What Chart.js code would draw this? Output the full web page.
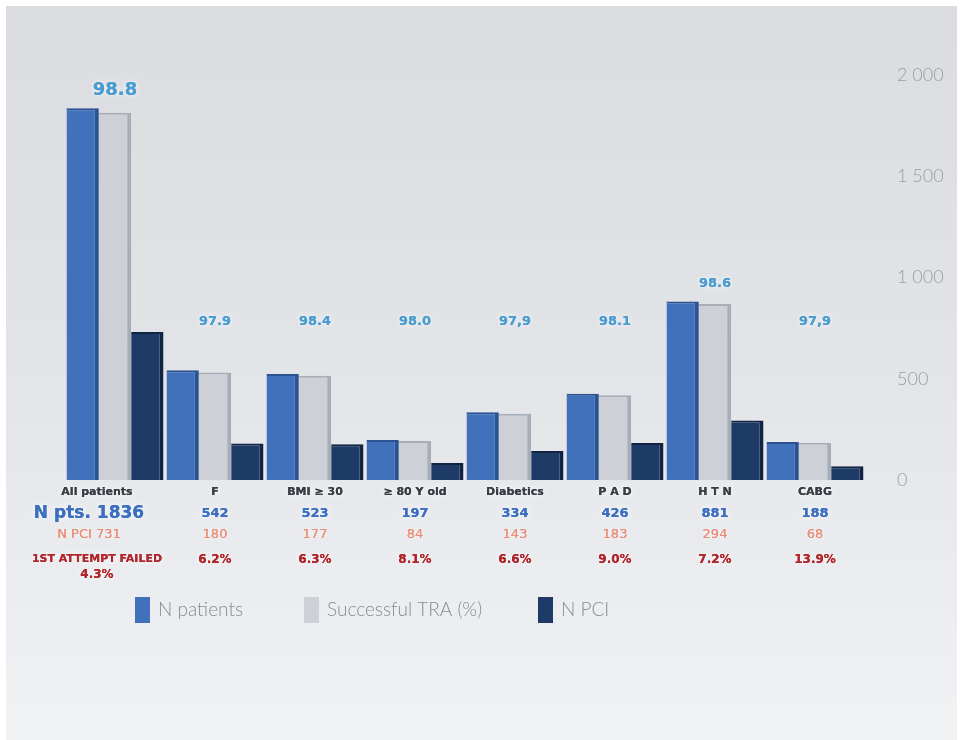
<!DOCTYPE html>
<html>
<head>
<meta charset="utf-8">
<script src="https://cdn.jsdelivr.net/npm/chart.js@4.4.0/dist/chart.umd.min.js"></script>
<style>
    body { margin: 0; background: #ffffff; }
    #wrap { position: relative; width: 963px; height: 740px; background: #ffffff; overflow: hidden; }
    #fundo {
        position: absolute; left: 6px; top: 6px; right: 6px; bottom: 0;
        background: linear-gradient(180deg, #dadce0 0%, #e1e3e7 45%, #eaecef 78%, #f1f2f4 100%);
    }
    #grafico { position: absolute; left: 0; top: 0; }
</style>
</head>
<body>
<div id="wrap">
    <div id="fundo"></div>
    <canvas id="grafico" width="963" height="740"></canvas>
</div>
<script>
// dados
const categories = ['All patients', 'F', 'BMI \u2265 30', '\u2265 80 Y old', 'Diabetics', 'P A D', 'H T N', 'CABG'];
const nPatients = [1836, 542, 523, 197, 334, 426, 881, 188];
const nSuccess = [1814, 531, 515, 193, 327, 418, 869, 184];
const nPci = [731, 180, 177, 84, 143, 183, 294, 68];
const successPct = ['98.8', '97.9', '98.4', '98.0', '97,9', '98.1', '98.6', '97,9'];
const failedPct = ['4.3%', '6.2%', '6.3%', '8.1%', '6.6%', '9.0%', '7.2%', '13.9%'];
const seriesNames = ['N patients', 'Successful TRA (%)', 'N PCI'];
const yTicks = [0, 500, 1000, 1500, 2000];

const corBarras = ['#4171bb', '#cdd1d7', '#1e3b68'];
const corBordas = ['#2b5291', '#a7aeb7', '#112443'];

// formata 2000 -> "2 000"
function formatTick(v) {
    if (v < 1000) return String(v);
    return Math.floor(v / 1000) + ' ' + String(v % 1000).padStart(3, '0');
}

function textoComBrilho(ctx, txt, x, y) {
    ctx.save();
    ctx.shadowColor = 'rgba(255,255,255,0.95)';
    ctx.shadowBlur = 6;
    ctx.fillText(txt, x, y);
    ctx.shadowBlur = 0;
    ctx.fillText(txt, x, y);
    ctx.restore();
}

// plugin que escreve os textos abaixo e acima das barras + legenda
const textosPlugin = {
    id: 'textos',
    afterDatasetsDraw(chart) {
        const ctx = chart.ctx;
        const xScale = chart.scales.x;
        const yScale = chart.scales.y;
        const base = yScale.getPixelForValue(0);

        ctx.save();
        ctx.textAlign = 'center';
        ctx.textBaseline = 'middle';

        categories.forEach((cat, i) => {
            let x = xScale.getPixelForValue(i);
            const topo = yScale.getPixelForValue(Math.max(nPatients[i], nSuccess[i]));

            // % de sucesso acima do grupo
            ctx.fillStyle = '#4b9dd0';
            ctx.font = i === 0 ? 'bold 18px "DejaVu Sans", sans-serif' : 'bold 13px "DejaVu Sans", sans-serif';
            const yPct = Math.min(topo - 18, yScale.getPixelForValue(780));
            textoComBrilho(ctx, successPct[i], x, yPct);

            const xt = i === 0 ? x - 18 : x;

            ctx.fillStyle = '#3a3d44';
            ctx.font = 'bold 11px "DejaVu Sans", sans-serif';
            textoComBrilho(ctx, cat, xt, base + 12);

            ctx.fillStyle = '#3c6fc0';
            if (i === 0) {
                ctx.font = 'bold 17px "DejaVu Sans", sans-serif';
                textoComBrilho(ctx, 'N pts. ' + nPatients[i], xt - 8, base + 34);
            } else {
                ctx.font = 'bold 13px "DejaVu Sans", sans-serif';
                textoComBrilho(ctx, String(nPatients[i]), xt, base + 34);
            }

            ctx.fillStyle = '#eb8e78';
            ctx.font = '13px "DejaVu Sans", sans-serif';
            textoComBrilho(ctx, (i === 0 ? 'N PCI ' : '') + nPci[i], xt - (i === 0 ? 8 : 0), base + 55);

            ctx.fillStyle = '#b0262b';
            ctx.font = 'bold 12px "DejaVu Sans", sans-serif';
            if (i === 0) {
                ctx.font = 'bold 11px "DejaVu Sans", sans-serif';
                textoComBrilho(ctx, '1ST ATTEMPT FAILED', xt, base + 79);
                ctx.font = 'bold 12px "DejaVu Sans", sans-serif';
                textoComBrilho(ctx, failedPct[i], xt, base + 95);
            } else {
                textoComBrilho(ctx, failedPct[i], xt, base + 80);
            }
        });

        // legenda desenhada a mao
        const legX = [135, 304, 538];
        const legY = 610;
        ctx.textAlign = 'left';
        ctx.font = '300 19px Lato, "Open Sans", sans-serif';
        seriesNames.forEach((nome, k) => {
            ctx.fillStyle = corBarras[k];
            ctx.fillRect(legX[k], legY - 13, 15, 26);
            ctx.fillStyle = '#8a8c90';
            ctx.fillText(nome, legX[k] + 23, legY);
        });

        ctx.restore();
    }
};

const datasets = [nPatients, nSuccess, nPci].map((valores, k) => ({
    label: seriesNames[k],
    data: valores,
    backgroundColor: corBarras[k],
    borderColor: corBordas[k],
    borderWidth: { left: 0, top: 2, right: 4, bottom: 0 },
    borderSkipped: false,
    barPercentage: 1.0,
    categoryPercentage: 0.97
}));

const chart = new Chart(document.getElementById('grafico').getContext('2d'), {
    type: 'bar',
    data: {
        labels: categories,
        datasets: datasets
    },
    options: {
        responsive: false,
        animation: false,
        layout: {
            padding: { left: 65, right: 0, top: 75, bottom: 260 }
        },
        plugins: {
            legend: { display: false },
            tooltip: { enabled: false }
        },
        scales: {
            x: {
                display: false
            },
            y: {
                position: 'right',
                min: 0,
                max: 2000,
                afterBuildTicks: (scale) => {
                    scale.ticks = yTicks.map(v => ({ value: v }));
                },
                afterFit: (scale) => {
                    scale.width = 98;
                },
                grid: { display: false },
                border: { display: false },
                ticks: {
                    padding: 24,
                    color: '#9a9ca0',
                    font: { family: 'Lato, "Open Sans", sans-serif', size: 18, weight: '300' },
                    callback: (v) => formatTick(v)
                }
            }
        }
    },
    plugins: [textosPlugin]
});
</script>
</body>
</html>
